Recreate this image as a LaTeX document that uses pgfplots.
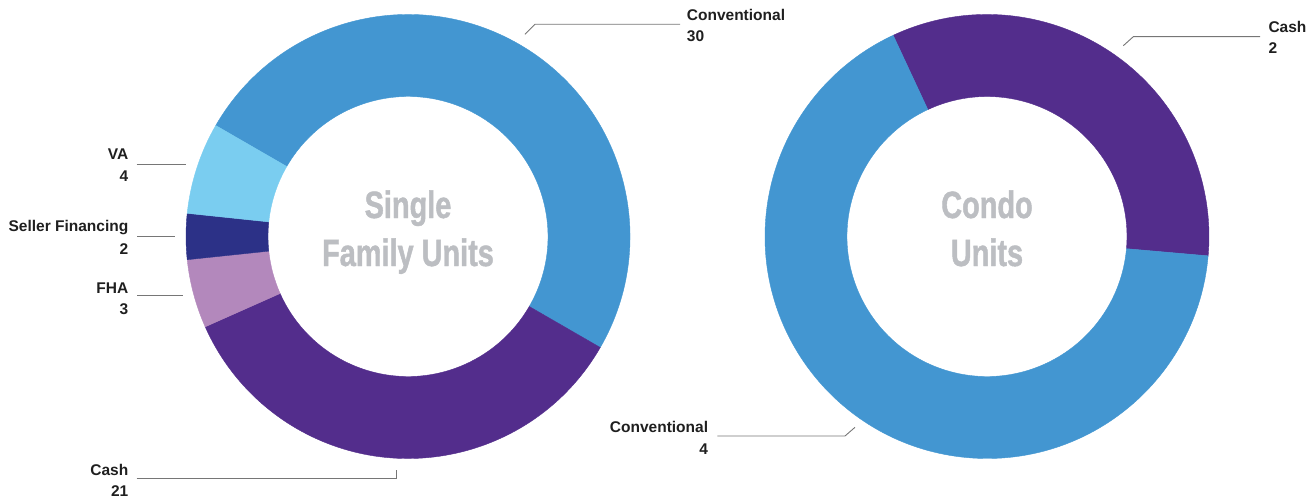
\documentclass[border=0pt]{standalone}
\usepackage{pgfplots}
\pgfplotsset{compat=1.18}
\usepackage{pgfplotstable}
\usepackage{fontspec}
\setmainfont{Liberation Sans}
\newfontfamily\centerfont{Liberation Sans Bold}[FakeStretch=0.76, FakeBold=1.2]

\definecolor{conv}{HTML}{4396D1}
\definecolor{cash}{HTML}{532D8C}
\definecolor{fha}{HTML}{B388BC}
\definecolor{seller}{HTML}{2C3187}
\definecolor{va}{HTML}{7ACDF0}
\definecolor{centergray}{HTML}{BCBEC2}
\definecolor{labeltext}{HTML}{1F1F1F}
\definecolor{leader}{HTML}{767676}

% Single family units (clockwise from 150 degrees)
\pgfplotstableread{
value color
30 conv
21 cash
3 fha
2 seller
4 va
}\sfdata

% Condo units (clockwise from 115 degrees)
\pgfplotstableread{
value color
2 cash
4 conv
}\condodata

\newcommand{\donut}[4]{%
  \pgfplotstablegetrowsof{#1}%
  \pgfmathtruncatemacro\nrows{\pgfplotsretval-1}%
  \def\tot{0}%
  \pgfplotsforeachungrouped \i in {0,...,\nrows}{%
    \pgfplotstablegetelem{\i}{value}\of#1%
    \pgfmathsetmacro\tot{\tot+\pgfplotsretval}%
  }%
  \def\cum{0}%
  \pgfplotsforeachungrouped \i in {0,...,\nrows}{%
    \pgfplotstablegetelem{\i}{value}\of#1\let\sval\pgfplotsretval
    \pgfplotstablegetelem{\i}{color}\of#1\let\slicecolor\pgfplotsretval
    \pgfmathsetmacro\aone{#4-360*(\cum/\tot)}%
    \pgfmathsetmacro\cum{\cum+\sval}%
    \pgfmathsetmacro\atwo{#4-360*(\cum/\tot)}%
    \edef\cmd{\noexpand\fill[\slicecolor, draw=\slicecolor, line width=0.4bp] (axis cs:#2,#3) ++(\aone:222bp) arc[start angle=\aone, end angle=\atwo, radius=222bp] -- ++(\atwo:-82bp) arc[start angle=\atwo, end angle=\aone, radius=140bp] -- cycle;}%
    \cmd
  }%
}

\begin{document}
\begin{tikzpicture}
\begin{axis}[at={(0,0)}, anchor=origin, x=1bp, y=1bp, xmin=0, xmax=1314, ymin=0, ymax=499, hide axis, clip=false]
\donut{\sfdata}{408}{262.5}{150}
\donut{\condodata}{987}{262.5}{115}

% centre titles
\tikzset{ctr/.style={anchor=base, inner sep=0, text=centergray, font=\centerfont\fontsize{38bp}{40bp}\selectfont}}
\node[ctr] at (axis cs:408,281) {Single};
\node[ctr] at (axis cs:408,233) {Family Units};
\node[ctr] at (axis cs:987,281) {Condo};
\node[ctr] at (axis cs:987,233) {Units};

% leader lines
\draw[leader, line width=0.9bp] (axis cs:525,464.7) -- (axis cs:535,474.7) -- (axis cs:680,474.7);
\draw[leader, line width=0.9bp] (axis cs:136.7,335) -- (axis cs:186,335);
\draw[leader, line width=0.9bp] (axis cs:137,262.3) -- (axis cs:175,262.3);
\draw[leader, line width=0.9bp] (axis cs:137,203.3) -- (axis cs:182.7,203.3);
\draw[leader, line width=0.9bp] (axis cs:136.7,20.7) -- (axis cs:396,20.7) -- (axis cs:396,29);
\draw[leader, line width=0.9bp] (axis cs:1123.3,453.3) -- (axis cs:1133.3,462.3) -- (axis cs:1260,462.3);
\draw[leader, line width=0.9bp] (axis cs:717.3,63) -- (axis cs:845,63) -- (axis cs:855,71.7);

% labels
\tikzset{lbl/.style={inner sep=0, text=labeltext, font=\bfseries\fontsize{15.5bp}{21.5bp}\selectfont}}
\node[lbl, anchor=base west] at (axis cs:686.7,478) {Conventional};
\node[lbl, anchor=base west] at (axis cs:686.7,457) {30};
\node[lbl, anchor=base east] at (axis cs:128.5,339.7) {VA};
\node[lbl, anchor=base east] at (axis cs:128.5,317.3) {4};
\node[lbl, anchor=base east] at (axis cs:128.5,267.3) {Seller Financing};
\node[lbl, anchor=base east] at (axis cs:128.5,245) {2};
\node[lbl, anchor=base east] at (axis cs:128.5,205.7) {FHA};
\node[lbl, anchor=base east] at (axis cs:128.5,184.7) {3};
\node[lbl, anchor=base east] at (axis cs:128.5,24) {Cash};
\node[lbl, anchor=base east] at (axis cs:128.5,2.5) {21};
\node[lbl, anchor=base west] at (axis cs:1268.3,466.3) {Cash};
\node[lbl, anchor=base west] at (axis cs:1268.3,445) {2};
\node[lbl, anchor=base east] at (axis cs:708.3,66.3) {Conventional};
\node[lbl, anchor=base east] at (axis cs:708.3,45) {4};
\end{axis}
\pgfresetboundingbox
\useasboundingbox (0,0) rectangle (1314bp,499bp);
\end{tikzpicture}
\end{document}
